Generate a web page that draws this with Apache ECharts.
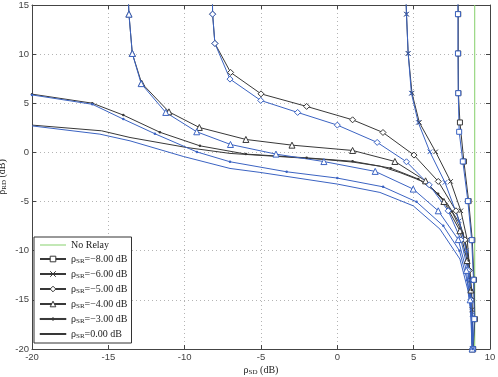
<!DOCTYPE html>
<html>
<head>
<meta charset="utf-8">
<script src="https://cdn.jsdelivr.net/npm/echarts@6/dist/echarts.min.js"></script>
<style>
  html, body { margin: 0; padding: 0; background: #fff; }
  #chart { width: 498px; height: 377px; }
</style>
</head>
<body>
<div id="chart"></div>
<script>
// ρSR levels shown in the legend
const levels = ['−8.00', '−6.00', '−5.00', '−4.00', '−3.00', '0.00'];

// No Relay reference line
const noRelay = [[9, -20], [9, 15]];

// [ρSD, ρRD] pairs, black = legend curves, blue = companion curves
const sr8Black = [[7.9, 18], [7.92, 14.07], [7.92, 10.07], [7.93, 6.03], [8.03, 3.05], [8.29, -0.92], [8.6, -4.95], [8.84, -8.92], [8.95, -12.96], [9.01, -16.96], [8.9, -20]];
const sr8Blue = [[7.88, 18], [7.9, 14.07], [7.9, 10.07], [7.92, 6.03], [7.98, 2.1], [8.22, -0.92], [8.55, -4.95], [8.8, -8.92], [8.92, -12.96], [8.97, -16.96], [8.88, -20]];

const sr6Black = [[4.45, 18], [4.53, 14.07], [4.64, 10.07], [4.89, 6.03], [5.37, 3.05], [6.44, 0.06], [7.42, -2.95], [8.09, -5.94], [8.51, -8.89], [8.72, -13], [8.82, -16], [8.87, -20]];
const sr6Blue = [[4.45, 18], [4.53, 14.07], [4.64, 10.07], [4.85, 6.03], [5.3, 3.05], [6.06, 0.06], [7.05, -3.05], [7.98, -6.96], [8.45, -10], [8.7, -13], [8.83, -16.5], [8.85, -20]];

const sr5Black = [[-8.2, 18], [-8.17, 14.07], [-8.02, 11.09], [-6.99, 8.14], [-5.0, 5.96], [-2.01, 4.68], [1.0, 3.32], [2.99, 2.03], [5.02, -0.27], [6.61, -2.95], [7.77, -5.94], [8.36, -8.89], [8.65, -12], [8.8, -15], [8.87, -20]];
const sr5Blue = [[-8.2, 18], [-8.17, 14.07], [-8.02, 11.09], [-7.03, 7.46], [-5.02, 5.29], [-2.6, 4.07], [0, 2.78], [2.61, 1.02], [4.53, -0.95], [6.02, -3.3], [7.26, -5.94], [8.1, -8.9], [8.55, -12], [8.75, -15], [8.85, -20]];

const sr4Black = [[-13.75, 18], [-13.65, 14.07], [-13.43, 10.07], [-12.82, 7.05], [-11.03, 4.13], [-9.04, 2.54], [-5.99, 1.32], [-2.97, 0.74], [1.0, 0.2], [3.77, -0.92], [5.78, -2.89], [6.98, -4.99], [8.03, -7.97], [8.5, -11], [8.75, -14], [8.85, -20]];
const sr4Blue = [[-13.75, 18], [-13.65, 14.07], [-13.43, 10.07], [-12.85, 7.0], [-11.24, 4.07], [-9.21, 2.1], [-7.0, 0.81], [-4.02, -0.17], [-0.88, -0.93], [2.48, -1.93], [4.97, -3.73], [6.61, -5.94], [7.92, -8.87], [8.45, -12], [8.7, -15], [8.83, -20]];

const sr3Black = [[-20, 5.93], [-16.05, 5.01], [-14.02, 3.8], [-11.62, 2.05], [-9.0, 0.67], [-5.99, -0.17], [-2.01, -0.55], [1.0, -0.9], [3.5, -1.6], [5.3, -2.7], [6.6, -4.2], [7.5, -6], [8.2, -8.2], [8.6, -11], [8.8, -14], [8.87, -20]];
const sr3Blue = [[-20, 5.85], [-16.05, 4.9], [-14.02, 3.39], [-11.95, 1.9], [-9.2, 0.05], [-7.03, -0.95], [-3.32, -1.97], [0, -2.61], [3.0, -3.5], [5.19, -5.03], [6.94, -7.47], [8.0, -10], [8.5, -13], [8.75, -16], [8.85, -20]];

const sr0Black = [[-20, 2.78], [-15.44, 2.2], [-13.58, 1.52], [-9.87, 0.5], [-7.03, -0.1], [-4, -0.4], [-1, -0.7], [1.0, -0.98], [2.8, -1.4], [4.1, -2.05], [5.85, -3.1], [7.16, -5.1], [8.0, -7.2], [8.45, -9.5], [8.7, -13], [8.85, -20]];
const sr0Blue = [[-20, 2.7], [-15.55, 1.86], [-13.58, 1.18], [-10.09, -0.41], [-7.03, -1.63], [-5.07, -2.03], [0, -3.22], [2.79, -4.07], [4.97, -5.43], [6.72, -7.8], [8.03, -10.85], [8.55, -14], [8.8, -17], [8.85, -20]];

const blackCurves = [sr8Black, sr6Black, sr5Black, sr4Black, sr3Black, sr0Black];
const blueCurves = [sr8Blue, sr6Blue, sr5Blue, sr4Blue, sr3Blue, sr0Blue];

const BLACK = '#383838';
const BLUE = '#3b63c2';
const GREEN = '#84cf6a';

// hollow markers drawn as paths so the stroke stays thin
const symbols = [
  { symbol: 'path://M0,0L10,0L10,10L0,10Z', size: 5, hollow: true },
  { symbol: 'path://M0,0L10,10M10,0L0,10', size: 4.5, hollow: true },
  { symbol: 'path://M5,0L10,5L5,10L0,5Z', size: 6, hollow: true },
  { symbol: 'path://M5,0L10,9L0,9Z', size: 6, hollow: true },
  { symbol: 'circle', size: 2.5, hollow: false },
  { symbol: 'path://M0,0L1,0', size: 0, hollow: false }
];
const flatIcon = 'path://M0,0L40,0L40,1.5L0,1.5Z';
const dotIcon = 'path://M0,2.2L40,2.2L40,3.8L0,3.8Z M18.5,1.5L21.5,1.5L21.5,4.5L18.5,4.5Z';

function curve(name, data, color, mk) {
  return {
    name: name,
    type: 'line',
    data: data,
    symbol: mk.symbol,
    symbolSize: mk.size,
    showSymbol: mk.size > 0,
    lineStyle: { color: color, width: 1 },
    itemStyle: mk.hollow
      ? { color: '#fff', borderColor: color, borderWidth: 1 }
      : { color: color, borderColor: color, borderWidth: 0 },
    emphasis: { disabled: true },
    animation: false,
    z: 3
  };
}

const series = [];
blackCurves.forEach((d, i) => series.push(curve(levels[i], d, BLACK, symbols[i])));
blueCurves.forEach((d, i) => series.push(curve(levels[i] + ' b', d, BLUE, symbols[i])));
series.unshift({
  name: 'No Relay',
  type: 'line',
  data: noRelay,
  symbol: 'none',
  lineStyle: { color: GREEN, width: 1 },
  itemStyle: { color: GREEN },
  animation: false,
  z: 2
});

const legendData = [{ name: 'No Relay', icon: flatIcon }].concat(levels.map((l, i) => {
  if (i === 4) return { name: l, icon: dotIcon };
  if (i === 5) return { name: l, icon: flatIcon };
  return { name: l };
}));

const tickFont = { fontFamily: 'Liberation Sans, Arial', fontSize: 9.5, color: '#444' };
const serif = 'Liberation Serif, Times New Roman';
const subRich = {
  t: { fontFamily: serif, fontSize: 10, color: '#222' },
  s: { fontFamily: serif, fontSize: 7, color: '#222', padding: [5, 0, 0, 0] }
};

const chart = echarts.init(document.getElementById('chart'));
chart.setOption({
  backgroundColor: '#fff',
  animation: false,
  grid: { left: 32, right: 8, top: 5, bottom: 28, containLabel: false, outerBoundsMode: 'none' },
  legend: {
    data: legendData,
    orient: 'vertical',
    left: 34,
    top: 237,
    backgroundColor: '#fff',
    borderColor: '#333',
    borderWidth: 1,
    padding: [3, 4, 3, 5],
    itemWidth: 26,
    itemHeight: 7,
    itemGap: 4,
    itemStyle: { borderWidth: 1 },
    formatter: name => name === 'No Relay'
      ? '{t|No Relay}'
      : '{t|ρ}{s|SR}{t|=' + name + ' dB}',
    textStyle: { rich: subRich }
  },
  xAxis: [{
    type: 'value', min: -20, max: 10, interval: 5,
    name: '{t|ρ}{s|SD}{t| (dB)}',
    nameLocation: 'middle', nameGap: 15, nameMoveOverlap: false,
    nameTextStyle: { rich: subRich },
    axisLine: { onZero: false, lineStyle: { color: '#444' } },
    axisTick: { inside: true, length: 4, lineStyle: { color: '#444' } },
    axisLabel: Object.assign({ margin: 3 }, tickFont),
    splitLine: { show: true, lineStyle: { color: '#b4b4b4', type: [1, 3] } }
  }, {
    type: 'value', min: -20, max: 10, interval: 5, position: 'top',
    axisLine: { onZero: false, lineStyle: { color: '#444' } },
    axisTick: { inside: true, length: 4, lineStyle: { color: '#444' } },
    axisLabel: { show: false },
    splitLine: { show: false }
  }],
  yAxis: [{
    type: 'value', min: -20, max: 15, interval: 5,
    name: '{t|ρ}{s|RD}{t| (dB)}',
    nameLocation: 'middle', nameGap: 24, nameRotate: 90, nameMoveOverlap: false,
    nameTextStyle: { rich: subRich },
    axisLine: { show: true, onZero: false, lineStyle: { color: '#444' } },
    axisTick: { show: true, inside: true, length: 4, lineStyle: { color: '#444' } },
    axisLabel: Object.assign({ margin: 3 }, tickFont),
    splitLine: { show: true, lineStyle: { color: '#b4b4b4', type: [1, 3] } }
  }, {
    type: 'value', min: -20, max: 15, interval: 5, position: 'right',
    axisLine: { show: true, onZero: false, lineStyle: { color: '#444' } },
    axisTick: { show: true, inside: true, length: 4, lineStyle: { color: '#444' } },
    axisLabel: { show: false },
    splitLine: { show: false }
  }],
  series: series
});
</script>
</body>
</html>
